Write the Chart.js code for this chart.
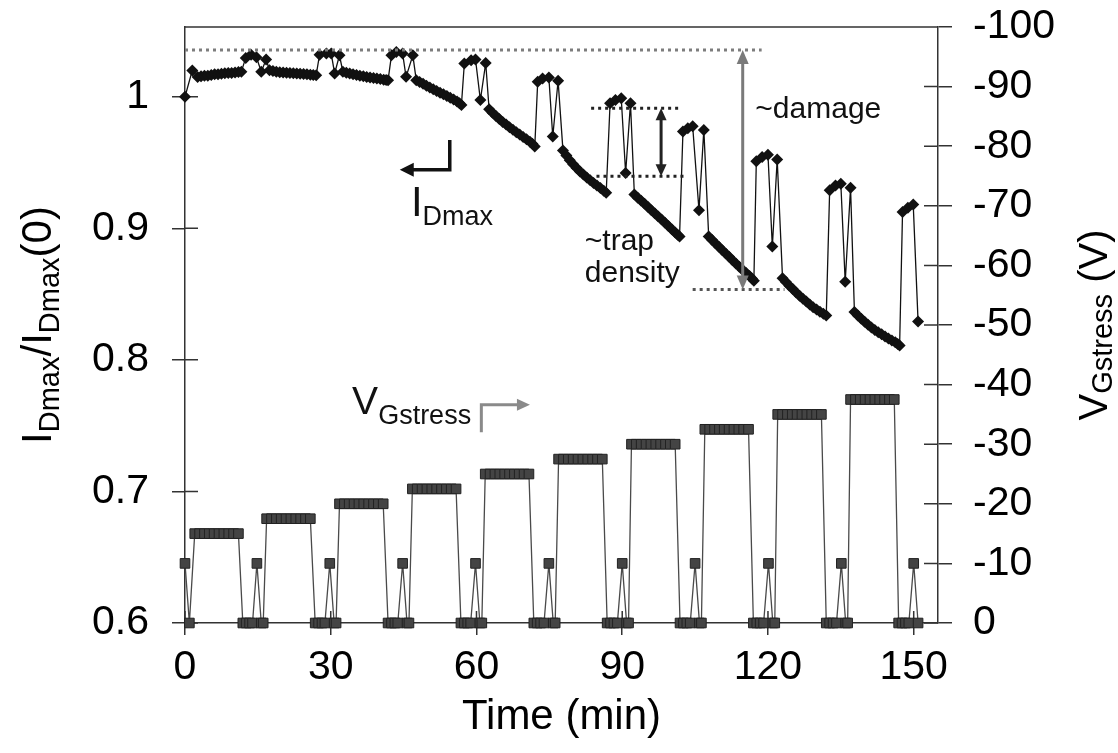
<!DOCTYPE html>
<html>
<head>
<meta charset="utf-8">
<script src="https://cdn.jsdelivr.net/npm/chart.js@4.4.1/dist/chart.umd.min.js"></script>
<style>
  html, body { margin: 0; padding: 0; background: #fff; }
  canvas { display: block; }
</style>
</head>
<body>
<canvas id="c" width="1118" height="753"></canvas>
<script>
// Normalised maximum drain current, one row per stress cycle
// (stress segment, then the recovery readings around the -10 V check).
const idTime = [
  0, 1.5, 2.6, 3.3, 4.0, 4.7, 5.4, 6.1, 6.8, 7.5, 8.2, 8.9, 9.6, 10.3, 11.0, 11.6,
  12.5, 13.6, 14.7, 15.7, 16.7,
  17.4, 18.1, 18.8, 19.5, 20.2, 20.9, 21.6, 22.3, 23.0, 23.7, 24.4, 25.1, 25.8, 26.4, 27.0,
  27.7, 29.1, 30.1, 30.8, 31.8,
  32.5, 33.2, 33.9, 34.6, 35.3, 36.0, 36.7, 37.4, 38.1, 38.8, 39.5, 40.2, 40.9, 41.4, 41.8,
  42.5, 43.5, 44.8, 45.5, 46.9,
  47.6, 48.3, 49.0, 49.7, 50.4, 51.1, 51.8, 52.5, 53.2, 53.9, 54.6, 55.3, 56.0, 56.5, 56.9,
  57.5, 58.9, 59.8, 60.8, 61.9,
  62.6, 63.3, 64.0, 64.7, 65.4, 66.1, 66.8, 67.5, 68.2, 68.9, 69.6, 70.3, 71.0, 71.5, 72.0,
  72.6, 73.6, 74.9, 75.7, 76.8,
  77.8, 78.5, 79.2, 79.9, 80.6, 81.3, 82.0, 82.7, 83.4, 84.1, 84.8, 85.5, 86.2, 86.7,
  87.5, 88.6, 89.8, 90.7, 91.7,
  92.5, 93.2, 93.9, 94.6, 95.3, 96.0, 96.7, 97.4, 98.1, 98.8, 99.5, 100.2, 100.9, 101.4, 101.8,
  102.5, 103.5, 104.5, 105.8, 106.8,
  107.8, 108.5, 109.2, 109.9, 110.6, 111.3, 112.0, 112.7, 113.4, 114.1, 114.8, 115.5, 116.2, 116.7, 117.1,
  117.6, 118.8, 120.0, 120.9, 121.9,
  123.0, 123.7, 124.4, 125.1, 125.8, 126.5, 127.2, 127.9, 128.6, 129.3, 130.0, 130.7, 131.4, 132.0,
  132.7, 133.9, 135.0, 135.9, 137.0,
  137.8, 138.5, 139.2, 139.9, 140.6, 141.3, 142.0, 142.7, 143.4, 144.1, 144.8, 145.5, 146.2, 146.7, 147.1,
  147.7, 148.8, 149.9, 150.9
];
const idRatio = [
  1.000, 1.020, 1.015, 1.0155, 1.016, 1.016, 1.0165, 1.017, 1.017, 1.0175, 1.0178, 1.018, 1.018, 1.0185, 1.0188, 1.019,
  1.0295, 1.032, 1.030, 1.019, 1.0283,
  1.0202, 1.0195, 1.019, 1.0187, 1.0184, 1.0182, 1.018, 1.0178, 1.0176, 1.0174, 1.0172, 1.017, 1.0168, 1.0166, 1.0164,
  1.0319, 1.0328, 1.0328, 1.0177, 1.0315,
  1.0189, 1.0182, 1.0176, 1.017, 1.0165, 1.016, 1.0155, 1.015, 1.0146, 1.0142, 1.0138, 1.0134, 1.013, 1.0128, 1.0126,
  1.0315, 1.034, 1.0328, 1.0151, 1.0315,
  1.0126, 1.0112, 1.0098, 1.0084, 1.0070, 1.0057, 1.0044, 1.0031, 1.0018, 1.0005, 0.9992, 0.9979, 0.9963, 0.9950, 0.9937,
  1.0252, 1.0277, 1.0283, 0.9975, 1.0257,
  0.9905, 0.9878, 0.9853, 0.9830, 0.9808, 0.9788, 0.9768, 0.9749, 0.9730, 0.9712, 0.9694, 0.9676, 0.9658, 0.9642, 0.9622,
  1.0113, 1.0139, 1.0147, 0.9698, 1.0121,
  0.9592, 0.9553, 0.9518, 0.9486, 0.9458, 0.9432, 0.9408, 0.9386, 0.9365, 0.9345, 0.9326, 0.9306, 0.9286, 0.9270,
  0.9950, 0.9975, 0.9988, 0.9420, 0.9950,
  0.9257, 0.9233, 0.9209, 0.9186, 0.9162, 0.9138, 0.9114, 0.9090, 0.9066, 0.9042, 0.9017, 0.8993, 0.8968, 0.8951, 0.8937,
  0.9735, 0.9760, 0.9776, 0.9138, 0.9748,
  0.8937, 0.8911, 0.8885, 0.8859, 0.8833, 0.8808, 0.8783, 0.8758, 0.8732, 0.8707, 0.8683, 0.8660, 0.8637, 0.8619, 0.8602,
  0.9509, 0.9542, 0.9559, 0.8862, 0.9522,
  0.8620, 0.8591, 0.8564, 0.8538, 0.8512, 0.8488, 0.8465, 0.8443, 0.8421, 0.8400, 0.8382, 0.8366, 0.8351, 0.8337,
  0.9290, 0.9325, 0.9338, 0.8594, 0.9308,
  0.8363, 0.8337, 0.8312, 0.8289, 0.8267, 0.8246, 0.8227, 0.8210, 0.8194, 0.8178, 0.8163, 0.8148, 0.8133, 0.8121, 0.8110,
  0.9123, 0.9156, 0.9181, 0.8292
];

// Gate stress voltage: stress plateau, 0 V rest with a -10 V check, per cycle.
const vTime = [
  0, 0.9,
  2.0, 3.0, 4.0, 5.0, 6.0, 7.0, 8.0, 9.0, 10.0, 11.0, 11.9, 12.6, 13.3, 13.9, 14.8, 15.7, 16.1,
  16.8, 17.8, 18.8, 19.8, 20.8, 21.8, 22.8, 23.8, 24.8, 25.8, 26.8, 27.5, 28.2, 28.8, 29.8, 30.7, 31.1,
  31.8, 32.8, 33.8, 34.8, 35.8, 36.8, 37.8, 38.8, 39.8, 40.8, 41.8, 42.5, 43.2, 43.8, 44.8, 45.7, 46.1,
  46.8, 47.8, 48.8, 49.8, 50.8, 51.8, 52.8, 53.8, 54.8, 55.8, 56.8, 57.5, 58.2, 58.8, 59.8, 60.7, 61.1,
  61.8, 62.8, 63.8, 64.8, 65.8, 66.8, 67.8, 68.8, 69.8, 70.8, 71.8, 72.5, 73.2, 73.9, 74.9, 75.8, 76.2,
  76.9, 77.9, 78.9, 79.9, 80.9, 81.9, 82.9, 83.9, 84.9, 85.9, 86.9, 87.6, 88.3, 89.0, 90.0, 90.9, 91.3,
  91.9, 92.9, 93.9, 94.9, 95.9, 96.9, 97.9, 98.9, 99.9, 100.9, 101.9, 102.6, 103.3, 104.0, 105.0, 105.9, 106.3,
  107.0, 108.0, 109.0, 110.0, 111.0, 112.0, 113.0, 114.0, 115.0, 116.0, 117.0, 117.7, 118.4, 119.1, 120.1, 121.0, 121.4,
  122.0, 123.0, 124.0, 125.0, 126.0, 127.0, 128.0, 129.0, 130.0, 131.0, 132.0, 132.7, 133.4, 134.1, 135.1, 136.0, 136.4,
  137.0, 138.0, 139.0, 140.0, 141.0, 142.0, 143.0, 144.0, 145.0, 146.0, 146.9, 147.6, 148.3, 149.0, 150.0, 150.9
];
const vGate = [
  -10, 0,
  -15, -15, -15, -15, -15, -15, -15, -15, -15, -15, 0, 0, 0, 0, -10, 0, 0,
  -17.5, -17.5, -17.5, -17.5, -17.5, -17.5, -17.5, -17.5, -17.5, -17.5, 0, 0, 0, 0, -10, 0, 0,
  -20, -20, -20, -20, -20, -20, -20, -20, -20, -20, 0, 0, 0, 0, -10, 0, 0,
  -22.5, -22.5, -22.5, -22.5, -22.5, -22.5, -22.5, -22.5, -22.5, -22.5, 0, 0, 0, 0, -10, 0, 0,
  -25, -25, -25, -25, -25, -25, -25, -25, -25, -25, 0, 0, 0, 0, -10, 0, 0,
  -27.5, -27.5, -27.5, -27.5, -27.5, -27.5, -27.5, -27.5, -27.5, -27.5, 0, 0, 0, 0, -10, 0, 0,
  -30, -30, -30, -30, -30, -30, -30, -30, -30, -30, 0, 0, 0, 0, -10, 0, 0,
  -32.5, -32.5, -32.5, -32.5, -32.5, -32.5, -32.5, -32.5, -32.5, -32.5, 0, 0, 0, 0, -10, 0, 0,
  -35, -35, -35, -35, -35, -35, -35, -35, -35, -35, 0, 0, 0, 0, -10, 0, 0,
  -37.5, -37.5, -37.5, -37.5, -37.5, -37.5, -37.5, -37.5, -37.5, -37.5, 0, 0, 0, 0, -10, 0
];

const timeTicks = [0, 30, 60, 90, 120, 150];
const ratioTicks = [0.6, 0.7, 0.8, 0.9, 1.0];
const voltTicks = [0, -10, -20, -30, -40, -50, -60, -70, -80, -90, -100];

const FONT = "'Liberation Sans', Arial, Helvetica, sans-serif";
const INK = '#111';
const GREY = '#7a7a7a';

const idPoints = idTime.map((t, i) => ({ x: t, y: idRatio[i] }));
const vPoints = vTime.map((t, i) => ({ x: t, y: vGate[i] }));

// text with sub-scripted runs, optionally rotated
function richText(ctx, x, y, parts, angle, align) {
  ctx.save();
  ctx.translate(x, y);
  ctx.rotate(angle || 0);
  ctx.textBaseline = 'alphabetic';
  ctx.textAlign = 'left';
  let total = 0;
  for (const p of parts) { ctx.font = p.size + 'px ' + FONT; total += ctx.measureText(p.t).width; }
  let cx = align === 'center' ? -total / 2 : 0;
  for (const p of parts) {
    ctx.font = p.size + 'px ' + FONT;
    ctx.fillStyle = p.color || '#000';
    ctx.fillText(p.t, cx, p.dy || 0);
    cx += ctx.measureText(p.t).width;
  }
  ctx.restore();
}

function arrowHead(ctx, x, y, dx, dy, len, half) {
  const px = -dy, py = dx;
  ctx.beginPath();
  ctx.moveTo(x, y);
  ctx.lineTo(x - dx * len + px * half, y - dy * len + py * half);
  ctx.lineTo(x - dx * len - px * half, y - dy * len - py * half);
  ctx.closePath();
  ctx.fill();
}

function dotted(ctx, x1, x2, y, color) {
  ctx.save();
  ctx.strokeStyle = color;
  ctx.lineWidth = 3;
  ctx.setLineDash([3, 4]);
  ctx.beginPath();
  ctx.moveTo(x1, y);
  ctx.lineTo(x2, y);
  ctx.stroke();
  ctx.restore();
}

// frame, inward tick halves, axis titles
const framePlugin = {
  id: 'frame',
  beforeDatasetsDraw(chart) {
    const { ctx, chartArea: a, scales } = chart;
    ctx.save();
    ctx.strokeStyle = '#333';
    ctx.lineWidth = 1.5;
    ctx.beginPath();
    ctx.moveTo(a.left, a.top);
    ctx.lineTo(a.right, a.top);
    for (const v of ratioTicks) {
      const y = scales.yI.getPixelForValue(v);
      ctx.moveTo(a.left, y); ctx.lineTo(a.left + 13, y);
    }
    for (const v of voltTicks) {
      const y = scales.yV.getPixelForValue(v);
      ctx.moveTo(a.right - 14, y); ctx.lineTo(a.right, y);
    }
    for (const v of timeTicks) {
      const x = scales.x.getPixelForValue(v);
      ctx.moveTo(x, a.bottom - 12); ctx.lineTo(x, a.bottom);
    }
    ctx.stroke();
    ctx.restore();

    // left axis title
    richText(ctx, 51, (a.top + a.bottom) / 2, [
      { t: 'I', size: 42 },
      { t: 'Dmax', size: 29, dy: 8 },
      { t: '/I', size: 42 },
      { t: 'Dmax', size: 29, dy: 8 },
      { t: '(0)', size: 42 }
    ], -Math.PI / 2, 'center');
    // right axis title
    richText(ctx, 1107, (a.top + a.bottom) / 2, [
      { t: 'V', size: 40 },
      { t: 'Gstress', size: 29, dy: 5 },
      { t: ' (V)', size: 40 }
    ], -Math.PI / 2, 'center');
  },
  afterDatasetsDraw(chart) {
    const { ctx, scales } = chart;
    const X = v => scales.x.getPixelForValue(v);
    const YI = v => scales.yI.getPixelForValue(v);
    const YV = v => scales.yV.getPixelForValue(v);

    // damage: top reference line, bottom line and two-headed arrow
    dotted(ctx, X(0), X(118.7), YI(1.0355), '#7d7d7d');
    dotted(ctx, X(104.5), X(123.4), YI(0.8534), '#555');
    ctx.save();
    ctx.strokeStyle = GREY; ctx.fillStyle = GREY; ctx.lineWidth = 3;
    const xd = X(114.8), yd1 = YI(1.0355), yd2 = YI(0.8534);
    ctx.beginPath(); ctx.moveTo(xd, yd1 + 10); ctx.lineTo(xd, yd2 - 10); ctx.stroke();
    arrowHead(ctx, xd, yd1, 0, -1, 14, 6);
    arrowHead(ctx, xd, yd2, 0, 1, 14, 6);
    ctx.restore();

    // trap density: pair of dotted lines and two-headed arrow
    dotted(ctx, X(83.6), X(102.2), YI(0.9912), '#222');
    dotted(ctx, X(84.7), X(103.2), YI(0.9395), '#222');
    ctx.save();
    ctx.strokeStyle = '#222'; ctx.fillStyle = '#222'; ctx.lineWidth = 3;
    const xt = X(98.0), yt1 = YI(0.9912), yt2 = YI(0.9395);
    ctx.beginPath(); ctx.moveTo(xt, yt1 + 8); ctx.lineTo(xt, yt2 - 8); ctx.stroke();
    arrowHead(ctx, xt, yt1, 0, -1, 12, 5.5);
    arrowHead(ctx, xt, yt2, 0, 1, 12, 5.5);
    ctx.restore();

    // I_Dmax pointer to the left axis
    ctx.save();
    ctx.strokeStyle = '#111'; ctx.fillStyle = '#111'; ctx.lineWidth = 3.5;
    const xa = X(54.5), ya1 = YI(0.9672), ya2 = YI(0.9445), xb = X(44.2);
    ctx.beginPath(); ctx.moveTo(xa, ya1); ctx.lineTo(xa, ya2); ctx.lineTo(xb + 10, ya2); ctx.stroke();
    arrowHead(ctx, xb, ya2, -1, 0, 14, 7);
    ctx.restore();

    // V_Gstress pointer to the right axis
    ctx.save();
    ctx.strokeStyle = '#8a8a8a'; ctx.fillStyle = '#8a8a8a'; ctx.lineWidth = 3;
    const xv = X(61.0), yv1 = YV(-32.0), yv2 = YV(-36.6), xw = X(71.0);
    ctx.beginPath(); ctx.moveTo(xv, yv1); ctx.lineTo(xv, yv2); ctx.lineTo(xw - 10, yv2); ctx.stroke();
    arrowHead(ctx, xw, yv2, 1, 0, 13, 6);
    ctx.restore();

    // annotation text
    ctx.save();
    ctx.fillStyle = '#111';
    ctx.font = '30px ' + FONT;
    ctx.textBaseline = 'alphabetic';
    ctx.fillText('~damage', X(117.4), YI(0.9835));
    ctx.fillText('~trap', X(82.3), YI(0.8833));
    ctx.fillText('density', X(82.3), YI(0.8590));
    ctx.restore();
    richText(ctx, X(46.5), YI(0.9093), [
      { t: 'I', size: 42, color: '#111' },
      { t: 'Dmax', size: 27, dy: 9, color: '#111' }
    ], 0);
    richText(ctx, X(34.4), YV(-35.0), [
      { t: 'V', size: 39, color: '#111' },
      { t: 'Gstress', size: 27, dy: 10, color: '#111' }
    ], 0);
  }
};

const tickFont = { family: FONT, size: 41 };
const noSidePad = s => { s.paddingTop = 0; s.paddingBottom = 0; s.paddingLeft = 0; s.paddingRight = 0; };

new Chart(document.getElementById('c'), {
  type: 'line',
  data: {
    datasets: [
      {
        label: 'VGstress',
        data: vPoints,
        yAxisID: 'yV',
        borderColor: '#4a4a4a',
        borderWidth: 1.3,
        pointStyle: 'rect',
        pointRadius: 6.8,
        pointBackgroundColor: '#444',
        pointBorderColor: '#222',
        pointBorderWidth: 1,
        tension: 0,
        clip: false
      },
      {
        label: 'IDmax',
        data: idPoints,
        yAxisID: 'yI',
        borderColor: INK,
        borderWidth: 1.3,
        pointStyle: 'rectRot',
        pointRadius: 6,
        pointBackgroundColor: INK,
        pointBorderColor: INK,
        pointBorderWidth: 0,
        tension: 0,
        clip: false
      }
    ]
  },
  options: {
    responsive: false,
    animation: false,
    events: [],
    layout: { padding: { top: 27, left: 0, right: 0, bottom: 0 } },
    plugins: { legend: { display: false }, tooltip: { enabled: false } },
    scales: {
      x: {
        type: 'linear',
        min: 0, max: 155,
        afterBuildTicks: s => { s.ticks = timeTicks.map(v => ({ value: v })); },
        afterFit: s => { s.height = 130; noSidePad(s); },
        ticks: { font: tickFont, color: '#000', padding: 8, maxRotation: 0, autoSkip: false,
                 callback: v => String(v) },
        grid: { display: true, drawOnChartArea: false, drawTicks: true, tickLength: 12, color: '#333', lineWidth: 1.5 },
        border: { display: true, color: '#333', width: 1.5 },
        title: { display: true, text: 'Time (min)', color: '#000',
                 font: { family: FONT, size: 42 }, padding: { top: 0, bottom: 10 } }
      },
      yI: {
        type: 'linear',
        position: 'left',
        min: 0.6, max: 1.053,
        afterBuildTicks: s => { s.ticks = ratioTicks.map(v => ({ value: v })); },
        afterFit: s => { s.width = 185; noSidePad(s); },
        ticks: { font: tickFont, color: '#000', padding: 23, autoSkip: false,
                 callback: v => String(+v.toFixed(2)) },
        grid: { display: true, drawOnChartArea: false, drawTicks: true, tickLength: 13, color: '#333', lineWidth: 1.5 },
        border: { display: true, color: '#333', width: 1.5 }
      },
      yV: {
        type: 'linear',
        position: 'right',
        min: -100, max: 0,
        reverse: true,
        afterBuildTicks: s => { s.ticks = voltTicks.map(v => ({ value: v })); },
        afterFit: s => { s.width = 180; noSidePad(s); },
        ticks: { font: tickFont, color: '#000', padding: 21, autoSkip: false,
                 callback: v => String(v) },
        grid: { display: true, drawOnChartArea: false, drawTicks: true, tickLength: 14, color: '#333', lineWidth: 1.5 },
        border: { display: true, color: '#333', width: 1.5 }
      }
    }
  },
  plugins: [framePlugin]
});
</script>
</body>
</html>
